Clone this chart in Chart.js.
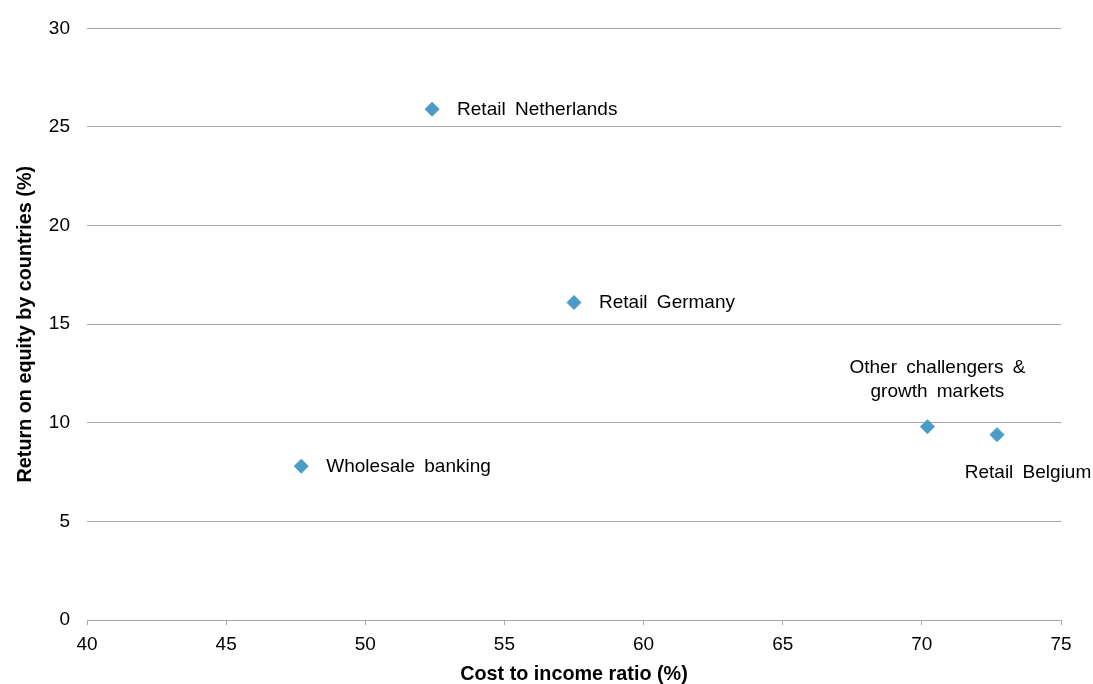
<!DOCTYPE html>
<html>
<head>
<meta charset="utf-8">
<script src="https://cdn.jsdelivr.net/npm/chart.js@4/dist/chart.umd.min.js"></script>
<style>
  html, body { margin: 0; padding: 0; background: #ffffff; }
  #wrap { width: 1093px; height: 684px; }
</style>
</head>
<body>
<div id="wrap"><canvas id="c" width="1093" height="684"></canvas></div>
<script>
// Business segments: cost/income ratio (%) vs return on equity (%)
const segments = ['Retail Netherlands', 'Retail Germany', 'Wholesale banking', 'Other challengers & growth markets', 'Retail Belgium'];
const costIncome = [52.4, 57.5, 47.7, 70.2, 72.7];
const returnOnEquity = [25.9, 16.1, 7.8, 9.8, 9.4];
const xTicks = [40, 45, 50, 55, 60, 65, 70, 75];
const yTicks = [0, 5, 10, 15, 20, 25, 30];

// Label placement around each marker (pixel offsets, text lines, alignment)
const labelPlacement = [
  { lines: ['Retail Netherlands'], dx: 25, dy: 0.5, align: 'left' },
  { lines: ['Retail Germany'], dx: 25, dy: 0.5, align: 'left' },
  { lines: ['Wholesale banking'], dx: 25, dy: 0.5, align: 'left' },
  { lines: ['Other challengers &', 'growth markets'], dx: 10, dy: -59, align: 'center' },
  { lines: ['Retail Belgium'], dx: 31, dy: 38, align: 'center' }
];

const FONT = '"Liberation Sans", Arial, sans-serif';
const GRID = '#a6a6a6';

const pointLabels = {
  id: 'pointLabels',
  afterDatasetsDraw(chart) {
    const ctx = chart.ctx;
    const meta = chart.getDatasetMeta(0);
    ctx.save();
    ctx.font = '19px ' + FONT;
    if ('wordSpacing' in ctx) ctx.wordSpacing = '4px';
    ctx.fillStyle = '#000000';
    ctx.textBaseline = 'middle';
    meta.data.forEach((pt, i) => {
      const p = labelPlacement[i];
      ctx.textAlign = p.align;
      p.lines.forEach((line, k) => {
        ctx.fillText(line, pt.x + p.dx, pt.y + p.dy + k * 24);
      });
    });
    ctx.restore();
  }
};

new Chart(document.getElementById('c'), {
  type: 'scatter',
  data: {
    datasets: [{
      label: 'Segments',
      data: costIncome.map((x, i) => ({ x: x, y: returnOnEquity[i], name: segments[i] })),
      pointStyle: 'rectRot',
      pointRadius: 7,
      pointHoverRadius: 7,
      backgroundColor: '#4a9bc8',
      borderColor: '#4a9bc8',
      borderWidth: 1
    }]
  },
  options: {
    responsive: false,
    animation: false,
    devicePixelRatio: 1,
    layout: { padding: { top: 28, right: 32, left: 0, bottom: 0 } },
    plugins: {
      legend: { display: false },
      tooltip: { enabled: false }
    },
    scales: {
      x: {
        type: 'linear',
        min: 40,
        max: 75,
        afterBuildTicks(scale) { scale.ticks = xTicks.map(v => ({ value: v })); },
        afterFit(scale) { scale.height = 64; },
        grid: {
          drawOnChartArea: false,
          drawTicks: true,
          tickLength: 5,
          color: GRID,
          lineWidth: 1
        },
        border: { display: true, color: GRID, width: 1 },
        ticks: {
          font: { family: FONT, size: 19 },
          color: '#000000',
          padding: 8,
          maxRotation: 0
        },
        title: {
          display: true,
          text: 'Cost to income ratio (%)',
          font: { family: FONT, size: 19.8, weight: 'bold', lineHeight: 1 },
          color: '#000000',
          padding: { top: 0, bottom: 0 }
        }
      },
      y: {
        type: 'linear',
        min: 0,
        max: 30,
        afterBuildTicks(scale) { scale.ticks = yTicks.map(v => ({ value: v })); },
        afterFit(scale) { scale.width = 87; },
        grid: {
          drawTicks: false,
          tickLength: 0,
          color: GRID,
          lineWidth: 1
        },
        border: { display: false },
        ticks: {
          font: { family: FONT, size: 19 },
          color: '#000000',
          padding: 17
        },
        title: {
          display: true,
          text: 'Return on equity by countries (%)',
          font: { family: FONT, size: 19.8, weight: 'bold', lineHeight: 1 },
          color: '#000000',
          padding: { top: 16, bottom: 0 }
        }
      }
    }
  },
  plugins: [pointLabels]
});
</script>
</body>
</html>
